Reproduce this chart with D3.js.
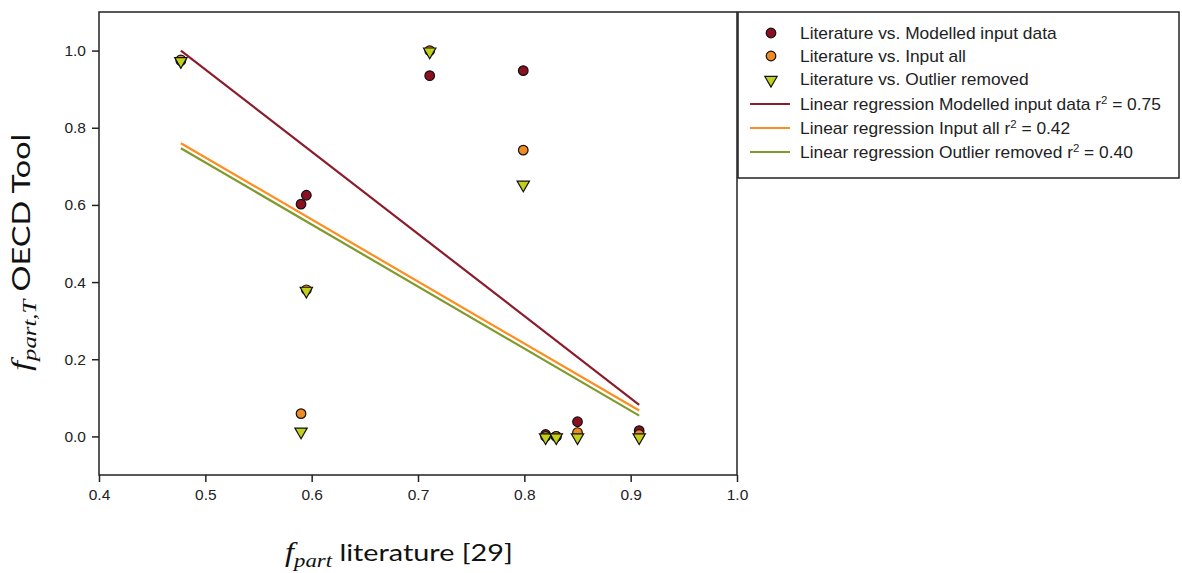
<!DOCTYPE html>
<html>
<head>
<meta charset="utf-8">
<script src="https://cdn.jsdelivr.net/npm/d3@7"></script>
<style>
  html, body { margin: 0; padding: 0; background: #fff; }
  svg { display: block; }
</style>
</head>
<body>
<svg id="chart" width="1182" height="573"></svg>
<script>
// f_part from literature (x) for each comparison point
const literatureX = [0.477, 0.590, 0.595, 0.711, 0.799, 0.820, 0.830, 0.850, 0.908];
// f_part,T from the OECD tool for each input variant
const modelledY   = [0.974, 0.602, 0.625, 0.935, 0.948, 0.005, 0.000, 0.038, 0.015];
const inputAllY   = [0.976, 0.059, 0.380, 1.000, 0.742, 0.000, 0.000, 0.010, 0.005];
const outlierY    = [0.975, 0.015, 0.380, 1.000, 0.655, 0.000, 0.000, 0.000, 0.000];

// linear regression lines: x extent and fitted y at each end
const regressionX  = [0.477, 0.908];
const regressionY0 = [1.000, 0.760, 0.747];
const regressionY1 = [0.082, 0.067, 0.054];
const regressionR2 = ["0.75", "0.42", "0.40"];

const xTicks = [0.4, 0.5, 0.6, 0.7, 0.8, 0.9, 1.0];
const yTicks = [0.0, 0.2, 0.4, 0.6, 0.8, 1.0];

const pointNames = ["Literature vs. Modelled input data", "Literature vs. Input all", "Literature vs. Outlier removed"];
const lineNames  = ["Linear regression Modelled input data ", "Linear regression Input all ", "Linear regression Outlier removed "];

const colors = {
  modelled: "#8c1020",
  inputAll: "#f08a24",
  outlier:  "#c2d01c",
  lineModelled: "#8b1c2c",
  lineInput: "#ff8c1e",
  lineOutlier: "#7f9a2c"
};
const lineColors = [colors.lineModelled, colors.lineInput, colors.lineOutlier];

const svg = d3.select("#chart");
const plot = { left: 99, right: 737, top: 12, bottom: 475 };

const x = d3.scaleLinear().domain([0.4, 1.0]).range([plot.left, plot.right]);
const y = d3.scaleLinear().domain([-0.1, 1.1]).range([plot.bottom, plot.top]);

const tickFont = "'Liberation Sans', Arial, sans-serif";

// frame
svg.append("rect")
  .attr("x", plot.left).attr("y", plot.top)
  .attr("width", plot.right - plot.left).attr("height", plot.bottom - plot.top)
  .attr("fill", "none").attr("stroke", "#222").attr("stroke-width", 1.5);

// axes
const xAxis = svg.append("g")
  .attr("transform", `translate(0,${plot.bottom})`)
  .call(d3.axisBottom(x).tickValues(xTicks).tickFormat(d3.format(".1f")).tickSize(7).tickPadding(7));
const yAxis = svg.append("g")
  .attr("transform", `translate(${plot.left},0)`)
  .call(d3.axisLeft(y).tickValues(yTicks).tickFormat(d3.format(".1f")).tickSize(7).tickPadding(6));
[xAxis, yAxis].forEach(a => {
  a.select(".domain").remove();
  a.selectAll(".tick line").attr("stroke", "#222").attr("stroke-width", 1.5);
  a.selectAll(".tick text").attr("fill", "#222").style("font-family", tickFont).style("font-size", "15.5px");
});

// regression lines
const lineGen = d3.line().x(d => x(d[0])).y(d => y(d[1]));
regressionY0.forEach((y0, i) => {
  svg.append("path")
    .attr("d", lineGen([[regressionX[0], y0], [regressionX[1], regressionY1[i]]]))
    .attr("fill", "none")
    .attr("stroke", lineColors[i])
    .attr("stroke-width", 2.2);
});

// scatter points
const pts = svg.append("g");
const circleLayer = (vals, fill) => {
  pts.append("g").selectAll("circle")
    .data(vals.map((v, i) => [literatureX[i], v]))
    .join("circle")
    .attr("cx", d => x(d[0])).attr("cy", d => y(d[1]))
    .attr("r", 4.8)
    .attr("fill", fill).attr("stroke", "#111").attr("stroke-width", 1.2);
};
circleLayer(modelledY, colors.modelled);
circleLayer(inputAllY, colors.inputAll);

const tri = d3.symbol().type(d3.symbolTriangle).size(66);
pts.append("g").selectAll("path")
  .data(outlierY.map((v, i) => [literatureX[i], v]))
  .join("path")
  .attr("d", tri)
  .attr("transform", d => `translate(${x(d[0])},${y(d[1]) + 1}) rotate(180)`)
  .attr("fill", colors.outlier).attr("stroke", "#111").attr("stroke-width", 1.2);

// legend
const legend = svg.append("g");
legend.append("rect")
  .attr("x", 738).attr("y", 12).attr("width", 441).attr("height", 166)
  .attr("fill", "#fff").attr("stroke", "#222").attr("stroke-width", 1.5);

const legRows = [33, 56, 79, 104, 128, 152];
const textX = 800;
const legFont = "16px 'Liberation Sans', Arial, sans-serif";
const legendLabel = cy => legend.append("g")
  .attr("transform", `translate(${textX},${cy}) scale(1.085,1)`)
  .append("text").attr("x", 0).attr("y", 0).attr("dy", "0.36em")
  .style("font", legFont).attr("fill", "#222");

pointNames.forEach((name, i) => {
  const cy = legRows[i];
  if (i < 2) {
    legend.append("circle").attr("cx", 771).attr("cy", cy).attr("r", 4.8)
      .attr("fill", i === 0 ? colors.modelled : colors.inputAll)
      .attr("stroke", "#111").attr("stroke-width", 1.2);
  } else {
    legend.append("path").attr("d", tri)
      .attr("transform", `translate(771,${cy + 1}) rotate(180)`)
      .attr("fill", colors.outlier).attr("stroke", "#111").attr("stroke-width", 1.2);
  }
  legendLabel(cy).text(name);
});

lineNames.forEach((name, i) => {
  const cy = legRows[i + 3];
  legend.append("line").attr("x1", 750).attr("x2", 790).attr("y1", cy).attr("y2", cy)
    .attr("stroke", lineColors[i]).attr("stroke-width", 2.2);
  const t = legendLabel(cy);
  t.append("tspan").text(name + "r");
  t.append("tspan").attr("dy", -6).style("font-size", "10.5px").text("2");
  t.append("tspan").attr("dy", 6).text(" = " + regressionR2[i]);
});

// axis titles
const titleFont = "Lato, 'Open Sans', sans-serif";
const mathFont = "'Liberation Serif', 'DejaVu Serif', serif";

const xt = svg.append("g").attr("transform", "translate(285,561) scale(1.2,1)")
  .append("text").attr("x", 0).attr("y", 0).attr("fill", "#111")
  .style("font-family", titleFont).style("font-size", "24px");
xt.append("tspan").style("font-family", mathFont).style("font-style", "italic").style("font-size", "27px").text("f");
xt.append("tspan").attr("dy", 6).style("font-family", mathFont).style("font-style", "italic").style("font-size", "19px").text("part");
xt.append("tspan").attr("dy", -6).text(" literature [29]");

const yt = svg.append("g").attr("transform", "translate(30,371) rotate(-90) scale(1.3,1)")
  .append("text").attr("x", 0).attr("y", 0).attr("fill", "#111")
  .style("font-family", titleFont).style("font-size", "25px");
yt.append("tspan").style("font-family", mathFont).style("font-style", "italic").style("font-size", "28px").text("f");
yt.append("tspan").attr("dy", 6).style("font-family", mathFont).style("font-style", "italic").style("font-size", "19px").text("part,T");
yt.append("tspan").attr("dy", -6).text(" OECD Tool");
</script>
</body>
</html>
